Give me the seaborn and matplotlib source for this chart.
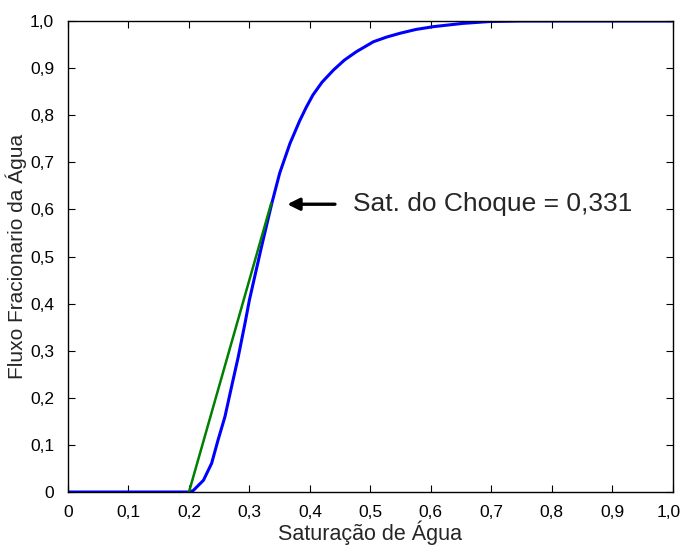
import matplotlib
matplotlib.use("Agg")
import matplotlib.pyplot as plt
import matplotlib.transforms as mtransforms
import seaborn as sns
import pandas as pd
from matplotlib.ticker import FuncFormatter

sw = [0.0, 0.2, 0.207, 0.224, 0.2375, 0.248, 0.2595, 0.2705, 0.2815, 0.2926, 0.300,
      0.320, 0.337, 0.350, 0.367, 0.383, 0.394, 0.405, 0.420, 0.439, 0.457, 0.477,
      0.505, 0.527, 0.549, 0.575, 0.604, 0.653, 0.698, 0.75, 1.0]
fw = [0.0, 0.0, 0.003, 0.025, 0.061, 0.110, 0.160, 0.224, 0.287, 0.358, 0.408,
      0.521, 0.613, 0.677, 0.740, 0.788, 0.817, 0.843, 0.870, 0.896, 0.917, 0.935,
      0.956, 0.966, 0.974, 0.982, 0.988, 0.995, 0.999, 1.0, 1.0]

tan_sw = [0.2, 0.336]
tan_fw = [0.0, 0.613]

shock_label = "Sat. do Choque = 0,331"
xlabel = "Saturação de Água"
ylabel = "Fluxo Fracionario da Água"
ticks = [0.0, 0.1, 0.2, 0.3, 0.4, 0.5, 0.6, 0.7, 0.8, 0.9, 1.0]

sns.set_style("white")
plt.rcParams['font.family'] = ['Liberation Sans', 'DejaVu Sans']

fig = plt.figure(figsize=(6.83, 5.46), dpi=100)
ax = fig.add_axes([0.0996, 0.0989, 0.8854, 0.8626])

df = pd.DataFrame({"sw": sw, "fw": fw})
dt = pd.DataFrame({"sw": tan_sw, "fw": tan_fw})
sns.lineplot(data=df, x="sw", y="fw", ax=ax, color="#0000ff", lw=2.2,
             sort=False, estimator=None)
sns.lineplot(data=dt, x="sw", y="fw", ax=ax, color="#008000", lw=1.8,
             sort=False, estimator=None)

ax.annotate("", xy=(0.358, 0.611), xytext=(0.446, 0.611),
            arrowprops=dict(arrowstyle="-|>", color="black", lw=2.4,
                            mutation_scale=18))
ax.text(0.472, 0.611, shock_label, fontsize=19, va="center", ha="left")

ax.set_xlim(0, 1)
ax.set_ylim(0, 1)
ax.set_xticks(ticks)
ax.set_yticks(ticks)
fmt = FuncFormatter(lambda v, p: "0" if abs(v) < 1e-9 else f"{v:.1f}".replace(".", ","))
ax.xaxis.set_major_formatter(fmt)
ax.yaxis.set_major_formatter(fmt)
ax.tick_params(direction="in", length=5, width=0.8, labelsize=12.5, colors="black",
               top=True, right=True, bottom=True, left=True)
ax.tick_params(axis="x", pad=9)
ax.tick_params(axis="y", pad=10)
for s in ax.spines.values():
    s.set_visible(True)
    s.set_color("black")
    s.set_linewidth(1.0)
ax.set_xlabel(xlabel, fontsize=15.5, labelpad=1)
ax.set_ylabel(ylabel, fontsize=15, labelpad=2)

# nudge the last x tick label slightly left so it stays inside the figure
last = ax.get_xticklabels()[-1]
last.set_transform(last.get_transform() +
                   mtransforms.ScaledTranslation(-3 / 72, 0, fig.dpi_scale_trans))

fig.savefig("out.png", dpi=100)
